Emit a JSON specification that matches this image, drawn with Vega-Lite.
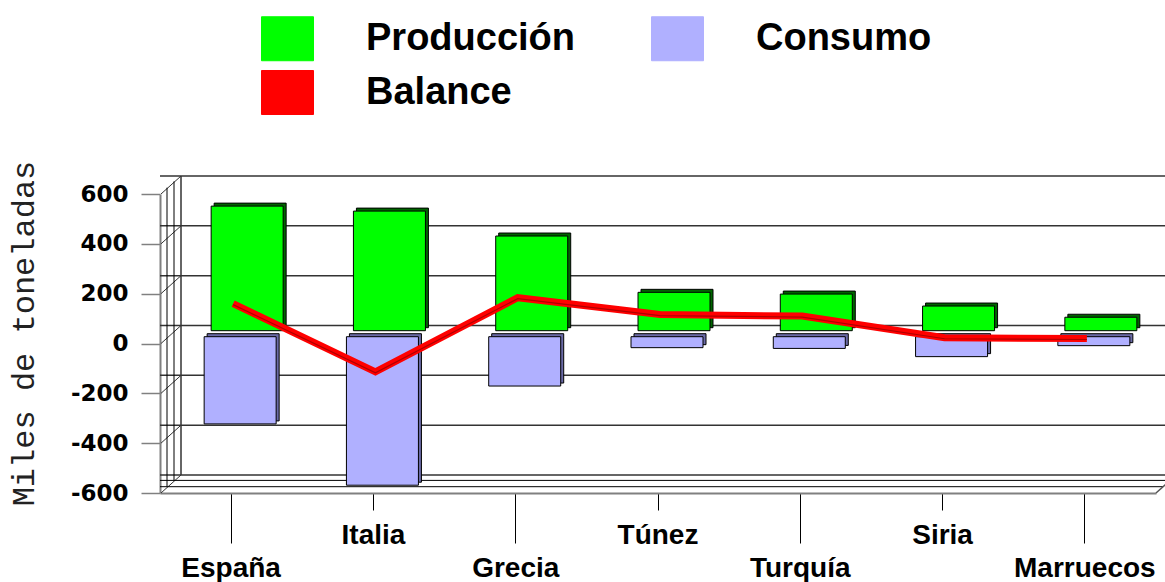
{
  "$schema": "https://vega.github.io/schema/vega-lite/v6.json",
  "width": 996,
  "height": 299,
  "autosize": {"type": "none"},
  "padding": {"left": 160, "top": 194, "right": 9, "bottom": 89},
  "background": "white",
  "config": {"view": {"stroke": null}},
  "datasets": {
    "grid": [
      {"pais": "España", "v": -600}, {"pais": "España", "v": -400}, {"pais": "España", "v": -200},
      {"pais": "España", "v": 0}, {"pais": "España", "v": 200}, {"pais": "España", "v": 400}, {"pais": "España", "v": 600}
    ],
    "frame": [{"pais": "España"}],
    "frameR": [{"pais": "Marruecos"}],
    "datos": [
      {"pais": "España", "serie": "Producción", "valor": 500},
      {"pais": "Italia", "serie": "Producción", "valor": 480},
      {"pais": "Grecia", "serie": "Producción", "valor": 380},
      {"pais": "Túnez", "serie": "Producción", "valor": 154},
      {"pais": "Turquía", "serie": "Producción", "valor": 147},
      {"pais": "Siria", "serie": "Producción", "valor": 99},
      {"pais": "Marruecos", "serie": "Producción", "valor": 54},
      {"pais": "España", "serie": "Consumo", "valor": -350},
      {"pais": "Italia", "serie": "Consumo", "valor": -596},
      {"pais": "Grecia", "serie": "Consumo", "valor": -198},
      {"pais": "Túnez", "serie": "Consumo", "valor": -44},
      {"pais": "Turquía", "serie": "Consumo", "valor": -47},
      {"pais": "Siria", "serie": "Consumo", "valor": -80},
      {"pais": "Marruecos", "serie": "Consumo", "valor": -36},
      {"pais": "España", "serie": "Balance", "valor": 160},
      {"pais": "Italia", "serie": "Balance", "valor": -114},
      {"pais": "Grecia", "serie": "Balance", "valor": 184},
      {"pais": "Túnez", "serie": "Balance", "valor": 116},
      {"pais": "Turquía", "serie": "Balance", "valor": 110},
      {"pais": "Siria", "serie": "Balance", "valor": 23},
      {"pais": "Marruecos", "serie": "Balance", "valor": 20}
    ]
  },
  "layer": [
    {
      "data": {"name": "grid"},
      "mark": {"type": "rule", "xOffset": 21, "x2Offset": 40, "yOffset": -18, "color": "#333333", "strokeWidth": 1.5},
      "encoding": {
        "y": {
          "field": "v", "type": "quantitative", "title": "Miles de toneladas",
          "scale": {"domain": [-600, 600], "nice": false, "zero": false},
          "axis": {
            "title": "Miles de toneladas",
            "values": [-600, -400, -200, 0, 200, 400, 600],
            "labelExpr": "'' + datum.value",
            "grid": false,
            "domain": true, "domainColor": "#808080", "domainWidth": 2,
            "ticks": true, "tickSize": 19, "tickColor": "#808080", "tickWidth": 1.5,
            "labelFont": "DejaVu Sans", "labelFontWeight": "bold", "labelFontSize": 23, "labelColor": "#000000",
            "labelPadding": 13, "labelFlush": false, "labelOverlap": false,
            "titleFont": "Liberation Mono", "titleFontSize": 32, "titleFontWeight": "normal", "titleColor": "#222222",
            "titleX": -127, "titleY": 139, "titleAngle": -90, "titleBaseline": "alphabetic", "titleAlign": "center"
          }
        }
      }
    },
    {
      "data": {"name": "grid"},
      "mark": {"type": "rule", "xOffset": 1, "x2Offset": 21, "y2Offset": -18, "color": "#333333", "strokeWidth": 1},
      "encoding": {
        "x": {"field": "pais", "type": "nominal", "sort": null, "bandPosition": 0, "title": null},
        "x2": {"field": "pais", "bandPosition": 0},
        "y": {"field": "v", "type": "quantitative", "title": "Miles de toneladas"},
        "y2": {"field": "v"}
      }
    },
    {
      "data": {"name": "frame"},
      "mark": {"type": "rule", "xOffset": 21, "yOffset": -18, "y2Offset": -18, "color": "#333333", "strokeWidth": 1.5},
      "encoding": {
        "x": {"field": "pais", "type": "nominal", "sort": null, "bandPosition": 0, "title": null},
        "y": {"datum": 600, "type": "quantitative", "title": "Miles de toneladas"},
        "y2": {"datum": -600}
      }
    },
    {
      "data": {"name": "frame"},
      "mark": {"type": "rule", "xOffset": 7, "yOffset": -6.3, "y2Offset": -6.3, "color": "#000000", "strokeWidth": 1},
      "encoding": {
        "x": {"field": "pais", "type": "nominal", "sort": null, "bandPosition": 0, "title": null},
        "y": {"datum": 600, "type": "quantitative", "title": "Miles de toneladas"},
        "y2": {"datum": -600}
      }
    },
    {
      "data": {"name": "frame"},
      "mark": {"type": "rule", "xOffset": 14, "yOffset": -12.6, "y2Offset": -12.6, "color": "#000000", "strokeWidth": 1},
      "encoding": {
        "x": {"field": "pais", "type": "nominal", "sort": null, "bandPosition": 0, "title": null},
        "y": {"datum": 600, "type": "quantitative", "title": "Miles de toneladas"},
        "y2": {"datum": -600}
      }
    },
    {
      "data": {"name": "frame"},
      "mark": {"type": "rule", "xOffset": 7, "x2Offset": 40, "yOffset": -6.3, "color": "#000000", "strokeWidth": 1},
      "encoding": {"y": {"datum": -600, "type": "quantitative", "title": "Miles de toneladas"}}
    },
    {
      "data": {"name": "frame"},
      "mark": {"type": "rule", "xOffset": 14, "x2Offset": 40, "yOffset": -12.6, "color": "#000000", "strokeWidth": 1},
      "encoding": {"y": {"datum": -600, "type": "quantitative", "title": "Miles de toneladas"}}
    },
    {
      "data": {"name": "frameR"},
      "mark": {"type": "rule", "x2Offset": 20, "y2Offset": -18, "color": "#555555", "strokeWidth": 1.5},
      "encoding": {
        "x": {"field": "pais", "type": "nominal", "sort": null, "bandPosition": 1, "title": null},
        "x2": {"field": "pais", "bandPosition": 1},
        "y": {"datum": -600, "type": "quantitative", "title": "Miles de toneladas"},
        "y2": {"datum": -600}
      }
    },
    {
      "data": {"name": "datos"},
      "transform": [{"filter": "datum.serie === 'Producción'"}],
      "mark": {"type": "bar", "size": 72, "fill": "#006400", "stroke": "#000000", "strokeWidth": 1, "xOffset": 19, "x2Offset": 19, "yOffset": -15.8, "y2Offset": -15.8},
      "encoding": {
        "x": {"field": "pais", "type": "nominal", "sort": null, "title": null},
        "y": {"field": "valor", "type": "quantitative", "title": "Miles de toneladas"}
      }
    },
    {
      "data": {"name": "datos"},
      "transform": [{"filter": "datum.serie === 'Producción'"}],
      "mark": {"type": "bar", "size": 72, "stroke": "#000000", "strokeWidth": 1, "opacity": 1, "xOffset": 16, "x2Offset": 16, "yOffset": -12.8, "y2Offset": -12.8},
      "encoding": {
        "x": {
          "field": "pais", "type": "nominal", "sort": null, "title": null,
          "scale": {"domain": ["España", "Italia", "Grecia", "Túnez", "Turquía", "Siria", "Marruecos"], "paddingInner": 0, "paddingOuter": 0},
          "axis": {
            "title": null,
            "domain": true, "domainColor": "#808080", "domainWidth": 2,
            "ticks": true, "tickColor": "#000000", "tickWidth": 1,
            "tickSize": {"condition": {"test": "indexof(['Italia','Túnez','Siria'], datum.value) >= 0", "value": 17}, "value": 50},
            "labelPadding": {"condition": {"test": "indexof(['Italia','Túnez','Siria'], datum.value) >= 0", "value": 25}, "value": 25},
            "labelAngle": 0, "labelAlign": "center", "labelBaseline": "middle",
            "labelFont": "Liberation Sans", "labelFontWeight": "bold", "labelFontSize": 28,
            "labelColor": "#000000", "labelOverlap": false, "labelLimit": 300, "grid": false
          }
        },
        "y": {"field": "valor", "type": "quantitative", "title": "Miles de toneladas"},
        "color": {
          "field": "serie", "type": "nominal",
          "scale": {"domain": ["Producción", "Consumo", "Balance"], "range": ["#00ff00", "#b0b0ff", "#ff0000"]},
          "legend": {
            "title": null, "orient": "none", "legendX": 101, "legendY": -182,
            "direction": "horizontal", "columns": 2,
            "symbolType": "M-1,-0.846L1,-0.846L1,0.846L-1,0.846Z", "symbolSize": 2704,
            "symbolStrokeColor": "#333333", "symbolStrokeWidth": 1, "symbolOpacity": 1,
            "labelFont": "Liberation Sans", "labelFontWeight": "bold", "labelFontSize": 38, "labelColor": "#000000",
            "labelOffset": 52, "labelLimit": 400, "columnPadding": 73, "rowPadding": 3, "padding": 0
          }
        }
      }
    },
    {
      "data": {"name": "datos"},
      "transform": [{"filter": "datum.serie === 'Consumo'"}],
      "mark": {"type": "bar", "size": 72, "fill": "#6a6aa6", "stroke": "#000000", "strokeWidth": 1, "xOffset": 12, "x2Offset": 12, "yOffset": -9.8, "y2Offset": -9.8},
      "encoding": {
        "x": {"field": "pais", "type": "nominal", "sort": null, "title": null},
        "y": {"field": "valor", "type": "quantitative", "title": "Miles de toneladas"}
      }
    },
    {
      "data": {"name": "datos"},
      "transform": [{"filter": "datum.serie === 'Consumo'"}],
      "mark": {"type": "bar", "size": 72, "stroke": "#000000", "strokeWidth": 1, "opacity": 1, "xOffset": 9, "x2Offset": 9, "yOffset": -6.8, "y2Offset": -6.8},
      "encoding": {
        "x": {"field": "pais", "type": "nominal", "sort": null, "title": null},
        "y": {"field": "valor", "type": "quantitative", "title": "Miles de toneladas"},
        "color": {"field": "serie", "type": "nominal"}
      }
    },
    {
      "data": {"name": "datos"},
      "transform": [{"filter": "datum.serie === 'Balance'"}],
      "mark": {"type": "line", "strokeWidth": 7, "strokeCap": "butt", "strokeJoin": "miter", "xOffset": 2},
      "encoding": {
        "x": {"field": "pais", "type": "nominal", "sort": null, "title": null},
        "y": {"field": "valor", "type": "quantitative", "title": "Miles de toneladas"},
        "color": {"field": "serie", "type": "nominal"}
      }
    },
    {
      "data": {"name": "datos"},
      "transform": [{"filter": "datum.serie === 'Balance'"}],
      "mark": {"type": "line", "strokeWidth": 1.2, "color": "#b00000", "strokeCap": "butt", "xOffset": 2, "yOffset": 1},
      "encoding": {
        "x": {"field": "pais", "type": "nominal", "sort": null, "title": null},
        "y": {"field": "valor", "type": "quantitative", "title": "Miles de toneladas"}
      }
    }
  ]
}
